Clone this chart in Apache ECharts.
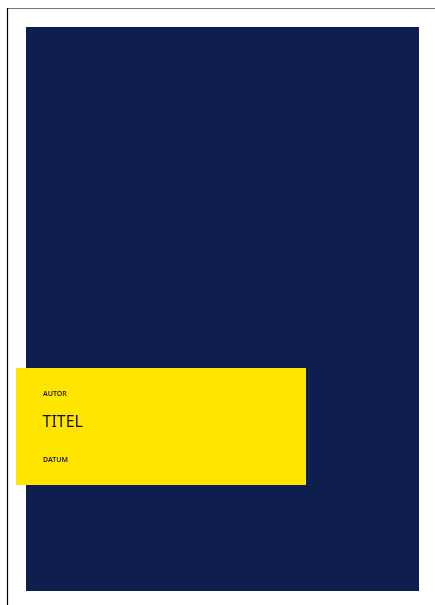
<!DOCTYPE html>
<html>
<head>
<meta charset="utf-8">
<script src="https://cdn.jsdelivr.net/npm/echarts@6/dist/echarts.min.js"></script>
<style>
html,body{margin:0;padding:0;background:#fff;}
#chart{width:435px;height:605px;}
</style>
</head>
<body>
<div id="chart"></div>
<script>
var author = ['AUTOR'];
var title = ['TITEL'];
var date = ['DATUM'];

var chart = echarts.init(document.getElementById('chart'), null, {renderer: 'canvas'});
var font = '"Noto Sans", "Open Sans", sans-serif';
chart.setOption({
  backgroundColor: '#ffffff',
  graphic: [
    {type: 'line', shape: {x1: 7, y1: 8.5, x2: 435, y2: 8.5}, style: {stroke: '#777777', lineWidth: 1}},
    {type: 'line', shape: {x1: 7.5, y1: 8, x2: 7.5, y2: 605}, style: {stroke: '#000000', lineWidth: 1.2}},
    {type: 'rect', shape: {x: 26, y: 27, width: 393, height: 564}, style: {fill: '#0e1f4f'}},
    {type: 'rect', shape: {x: 16, y: 368, width: 290, height: 117}, style: {fill: '#ffe500'}},
    {type: 'text', left: 43, top: 390, style: {text: author[0], fill: '#1a1a1a', font: '600 7px ' + font}},
    {type: 'text', left: 42.5, top: 414.5, style: {text: title[0], fill: '#111111', font: '16px ' + font}},
    {type: 'text', left: 43, top: 456, style: {text: date[0], fill: '#1a1a1a', font: '600 7px ' + font}}
  ]
});
</script>
</body>
</html>
